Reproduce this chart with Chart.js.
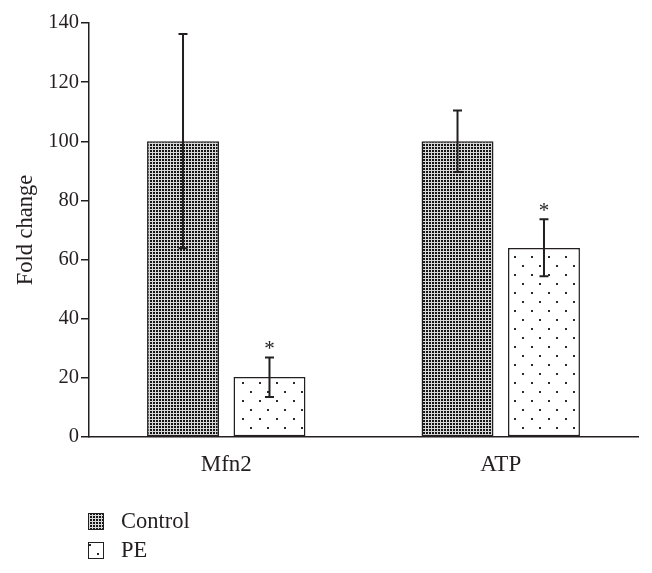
<!DOCTYPE html>
<html>
<head>
<meta charset="utf-8">
<script src="https://cdn.jsdelivr.net/npm/chart.js@4/dist/chart.umd.min.js"></script>
<style>
    html, body { margin: 0; padding: 0; background: #fff; }
    #wrap { width: 652px; height: 573px; position: relative; }
</style>
</head>
<body>
<div id="wrap"><canvas id="chart"></canvas></div>
<script>
// Data
const categories = ['Mfn2', 'ATP'];
const seriesNames = ['Control', 'PE'];
const controlValues = [100, 100];
const peValues = [20.3, 63.9];
// error bar ends (low / high)
const controlErrLow = [63.8, 89.6];
const controlErrHigh = [136.3, 110.4];
const peErrLow = [13.5, 54.4];
const peErrHigh = [26.9, 73.6];
// significance marks (*) per category
const controlSig = [false, false];
const peSig = [true, true];
const yTicks = [0, 20, 40, 60, 80, 100, 120, 140];

const FONT = "'Liberation Serif', 'DejaVu Serif', serif";
const INK = '#231f20';

// fine dark grid for Control
function gridPattern() {
    const c = document.createElement('canvas');
    c.width = 3; c.height = 3;
    const g = c.getContext('2d');
    g.fillStyle = '#d8d8d8';
    g.fillRect(0, 0, 3, 3);
    g.fillStyle = '#161616';
    g.fillRect(0, 0, 2, 2);
    return g.createPattern(c, 'repeat');
}

// sparse staggered dots for PE
function dotPattern() {
    const c = document.createElement('canvas');
    c.width = 17; c.height = 18;
    const g = c.getContext('2d');
    g.fillStyle = '#ffffff';
    g.fillRect(0, 0, 17, 18);
    g.fillStyle = '#2a2a2a';
    g.fillRect(4, 4, 2, 2);
    g.fillRect(12, 13, 2, 2);
    return g.createPattern(c, 'repeat');
}

const errors = [
    { low: controlErrLow, high: controlErrHigh, sig: controlSig },
    { low: peErrLow, high: peErrHigh, sig: peSig }
];

// error bars + asterisks
const errorBars = {
    id: 'errorBars',
    afterDatasetsDraw(chart) {
        const ctx = chart.ctx;
        const y = chart.scales.y;
        ctx.save();
        ctx.strokeStyle = INK;
        ctx.fillStyle = INK;
        ctx.lineWidth = 2;
        chart.data.datasets.forEach((ds, i) => {
            const meta = chart.getDatasetMeta(i);
            meta.data.forEach((bar, j) => {
                const x = bar.x;
                const yLo = y.getPixelForValue(errors[i].low[j]);
                const yHi = y.getPixelForValue(errors[i].high[j]);
                ctx.beginPath();
                ctx.moveTo(x, yLo); ctx.lineTo(x, yHi);
                ctx.moveTo(x - 4.5, yLo); ctx.lineTo(x + 4.5, yLo);
                ctx.moveTo(x - 4.5, yHi); ctx.lineTo(x + 4.5, yHi);
                ctx.stroke();
                if (errors[i].sig[j]) {
                    ctx.font = '21px ' + FONT;
                    ctx.textAlign = 'center';
                    ctx.textBaseline = 'alphabetic';
                    ctx.fillText('*', x, yHi - 2.5);
                }
            });
        });
        ctx.restore();
    }
};

// stacked legend at the lower left
const stackedLegend = {
    id: 'stackedLegend',
    afterDraw(chart) {
        const ctx = chart.ctx;
        ctx.save();
        chart.data.datasets.forEach((ds, i) => {
            const top = 513 + i * 29;
            ctx.fillStyle = ds.backgroundColor;
            ctx.fillRect(88, top, 15, 16);
            ctx.strokeStyle = INK;
            ctx.lineWidth = 1;
            ctx.strokeRect(88.5, top + 0.5, 15, 16);
            ctx.fillStyle = INK;
            ctx.font = '22.5px ' + FONT;
            ctx.textAlign = 'left';
            ctx.textBaseline = 'middle';
            ctx.fillText(ds.label, 121, top + 9);
        });
        ctx.restore();
    }
};

const chart = new Chart(document.getElementById('chart'), {
    type: 'bar',
    data: {
        labels: categories,
        datasets: [
            {
                label: seriesNames[0],
                data: controlValues,
                backgroundColor: gridPattern(),
                borderColor: INK,
                borderWidth: 1.5,
                borderSkipped: false
            },
            {
                label: seriesNames[1],
                data: peValues,
                backgroundColor: dotPattern(),
                borderColor: INK,
                borderWidth: 1.5,
                borderSkipped: false
            }
        ]
    },
    options: {
        responsive: true,
        maintainAspectRatio: false,
        animation: false,
        datasets: {
            bar: { categoryPercentage: 0.63, barPercentage: 0.832 }
        },
        layout: { padding: { top: 23, right: 14, left: 0, bottom: 0 } },
        plugins: {
            legend: { display: false },
            tooltip: { enabled: false }
        },
        scales: {
            x: {
                grid: { display: false, drawTicks: false },
                border: { display: true, color: INK, width: 1.5 },
                ticks: {
                    color: INK,
                    padding: 14,
                    font: { family: FONT, size: 23 }
                },
                afterFit: s => { s.height = 136; }
            },
            y: {
                min: 0,
                max: 140,
                afterBuildTicks: s => { s.ticks = yTicks.map(v => ({ value: v })); },
                grid: { drawOnChartArea: false, drawTicks: true, tickLength: 8, color: INK, lineWidth: 1.5 },
                border: { display: true, color: INK, width: 1.5 },
                ticks: {
                    color: INK,
                    padding: 2,
                    font: { family: FONT, size: 20.5 }
                },
                title: {
                    display: true,
                    text: 'Fold change',
                    color: INK,
                    padding: { top: 13, bottom: 0 },
                    font: { family: FONT, size: 22.5 }
                },
                afterFit: s => { s.width = 89; }
            }
        }
    },
    plugins: [errorBars, stackedLegend]
});
</script>
</body>
</html>
